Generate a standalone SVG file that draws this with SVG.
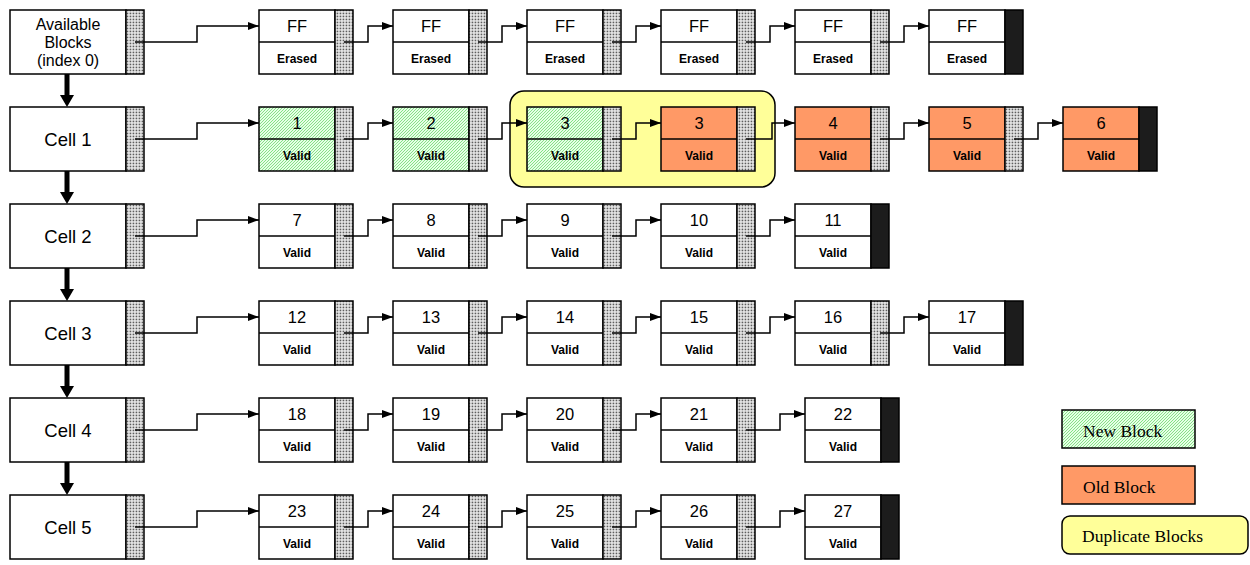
<svg xmlns="http://www.w3.org/2000/svg" width="1250" height="565" viewBox="0 0 1250 565">
<defs>
<pattern id="dots" width="3" height="3" patternUnits="userSpaceOnUse">
<rect width="3" height="3" fill="#f0f0f0"/>
<rect x="0.6" y="0.6" width="1.7" height="1.7" fill="#5e5e5e"/>
</pattern>
<pattern id="hatch" width="3" height="3" patternUnits="userSpaceOnUse">
<rect width="3" height="3" fill="#e6ffe6"/>
<path d="M-1,1 L1,-1 M0,3 L3,0 M2,4 L4,2" stroke="#6fd86f" stroke-width="0.8"/>
</pattern>
<marker id="arr" markerUnits="userSpaceOnUse" markerWidth="11" markerHeight="8" refX="11" refY="4" orient="auto">
<path d="M0,0 L11,4 L0,8 z" fill="#000"/>
</marker>
</defs>
<style>
.w{fill:#fff;stroke:#000;stroke-width:1.5}
.g{fill:url(#hatch);stroke:#000;stroke-width:1.5}
.o{fill:#ff9966;stroke:#000;stroke-width:1.5}
.d{fill:url(#dots);stroke:#000;stroke-width:1.5}
.k{fill:#1c1c1c;stroke:#000;stroke-width:1.5}
.sep{stroke:#000;stroke-width:1.5}
.t{font-family:"Liberation Sans",Arial,sans-serif;font-size:16.5px;text-anchor:middle;fill:#000}
.c{font-family:"Liberation Sans",Arial,sans-serif;font-size:18.5px;text-anchor:middle;fill:#000}
.a{font-family:"Liberation Sans",Arial,sans-serif;font-size:16px;text-anchor:middle;fill:#000}
.b{font-family:"Liberation Sans",Arial,sans-serif;font-size:12px;font-weight:bold;text-anchor:middle;fill:#000}
.lg{font-family:"Liberation Serif","Times New Roman",serif;font-size:17.5px;fill:#000}
.cn{fill:none;stroke:#000;stroke-width:1.5;marker-end:url(#arr)}
</style>

<!-- duplicate group background -->
<rect id="duplicate-group" x="510" y="91" width="265" height="96" rx="14" ry="14" fill="#ffff99" stroke="#000" stroke-width="1.5"/>

<!-- left cells -->
<g id="available"><rect class="w" x="10" y="10" width="116" height="64"/><rect class="d" x="126" y="10" width="18" height="64"/>
<text class="a" x="68" y="29.5">Available</text><text class="a" x="68" y="47.5">Blocks</text><text class="a" x="68" y="65.5">(index 0)</text></g>
<g id="cell1"><rect class="w" x="10" y="107" width="116" height="64"/><rect class="d" x="126" y="107" width="18" height="64"/><text class="c" x="68" y="146">Cell 1</text></g>
<g id="cell2"><rect class="w" x="10" y="204" width="116" height="64"/><rect class="d" x="126" y="204" width="18" height="64"/><text class="c" x="68" y="243">Cell 2</text></g>
<g id="cell3"><rect class="w" x="10" y="301" width="116" height="64"/><rect class="d" x="126" y="301" width="18" height="64"/><text class="c" x="68" y="340">Cell 3</text></g>
<g id="cell4"><rect class="w" x="10" y="398" width="116" height="64"/><rect class="d" x="126" y="398" width="18" height="64"/><text class="c" x="68" y="437">Cell 4</text></g>
<g id="cell5"><rect class="w" x="10" y="495" width="116" height="64"/><rect class="d" x="126" y="495" width="18" height="64"/><text class="c" x="68" y="534">Cell 5</text></g>

<!-- row 0 -->
<g id="r0b1"><rect class="w" x="259" y="10" width="76" height="64"/><line class="sep" x1="259" y1="42" x2="335" y2="42"/><rect class="d" x="335" y="10" width="18" height="64"/><text class="t" x="297" y="32">FF</text><text class="b" x="297" y="63">Erased</text></g>
<g id="r0b2"><rect class="w" x="393" y="10" width="76" height="64"/><line class="sep" x1="393" y1="42" x2="469" y2="42"/><rect class="d" x="469" y="10" width="18" height="64"/><text class="t" x="431" y="32">FF</text><text class="b" x="431" y="63">Erased</text></g>
<g id="r0b3"><rect class="w" x="527" y="10" width="76" height="64"/><line class="sep" x1="527" y1="42" x2="603" y2="42"/><rect class="d" x="603" y="10" width="18" height="64"/><text class="t" x="565" y="32">FF</text><text class="b" x="565" y="63">Erased</text></g>
<g id="r0b4"><rect class="w" x="661" y="10" width="76" height="64"/><line class="sep" x1="661" y1="42" x2="737" y2="42"/><rect class="d" x="737" y="10" width="18" height="64"/><text class="t" x="699" y="32">FF</text><text class="b" x="699" y="63">Erased</text></g>
<g id="r0b5"><rect class="w" x="795" y="10" width="76" height="64"/><line class="sep" x1="795" y1="42" x2="871" y2="42"/><rect class="d" x="871" y="10" width="18" height="64"/><text class="t" x="833" y="32">FF</text><text class="b" x="833" y="63">Erased</text></g>
<g id="r0b6"><rect class="w" x="929" y="10" width="76" height="64"/><line class="sep" x1="929" y1="42" x2="1005" y2="42"/><rect class="k" x="1005" y="10" width="18" height="64"/><text class="t" x="967" y="32">FF</text><text class="b" x="967" y="63">Erased</text></g>

<!-- row 1 -->
<g id="b1"><rect class="g" x="259" y="107" width="76" height="64"/><line class="sep" x1="259" y1="139" x2="335" y2="139"/><rect class="d" x="335" y="107" width="18" height="64"/><text class="t" x="297" y="129">1</text><text class="b" x="297" y="160">Valid</text></g>
<g id="b2"><rect class="g" x="393" y="107" width="76" height="64"/><line class="sep" x1="393" y1="139" x2="469" y2="139"/><rect class="d" x="469" y="107" width="18" height="64"/><text class="t" x="431" y="129">2</text><text class="b" x="431" y="160">Valid</text></g>
<g id="b3new"><rect class="g" x="527" y="107" width="76" height="64"/><line class="sep" x1="527" y1="139" x2="603" y2="139"/><rect class="d" x="603" y="107" width="18" height="64"/><text class="t" x="565" y="129">3</text><text class="b" x="565" y="160">Valid</text></g>
<g id="b3old"><rect class="o" x="661" y="107" width="76" height="64"/><line class="sep" x1="661" y1="139" x2="737" y2="139"/><rect class="d" x="737" y="107" width="18" height="64"/><text class="t" x="699" y="129">3</text><text class="b" x="699" y="160">Valid</text></g>
<g id="b4"><rect class="o" x="795" y="107" width="76" height="64"/><line class="sep" x1="795" y1="139" x2="871" y2="139"/><rect class="d" x="871" y="107" width="18" height="64"/><text class="t" x="833" y="129">4</text><text class="b" x="833" y="160">Valid</text></g>
<g id="b5"><rect class="o" x="929" y="107" width="76" height="64"/><line class="sep" x1="929" y1="139" x2="1005" y2="139"/><rect class="d" x="1005" y="107" width="18" height="64"/><text class="t" x="967" y="129">5</text><text class="b" x="967" y="160">Valid</text></g>
<g id="b6"><rect class="o" x="1063" y="107" width="76" height="64"/><line class="sep" x1="1063" y1="139" x2="1139" y2="139"/><rect class="k" x="1139" y="107" width="18" height="64"/><text class="t" x="1101" y="129">6</text><text class="b" x="1101" y="160">Valid</text></g>

<!-- row 2 -->
<g id="b7"><rect class="w" x="259" y="204" width="76" height="64"/><line class="sep" x1="259" y1="236" x2="335" y2="236"/><rect class="d" x="335" y="204" width="18" height="64"/><text class="t" x="297" y="226">7</text><text class="b" x="297" y="257">Valid</text></g>
<g id="b8"><rect class="w" x="393" y="204" width="76" height="64"/><line class="sep" x1="393" y1="236" x2="469" y2="236"/><rect class="d" x="469" y="204" width="18" height="64"/><text class="t" x="431" y="226">8</text><text class="b" x="431" y="257">Valid</text></g>
<g id="b9"><rect class="w" x="527" y="204" width="76" height="64"/><line class="sep" x1="527" y1="236" x2="603" y2="236"/><rect class="d" x="603" y="204" width="18" height="64"/><text class="t" x="565" y="226">9</text><text class="b" x="565" y="257">Valid</text></g>
<g id="b10"><rect class="w" x="661" y="204" width="76" height="64"/><line class="sep" x1="661" y1="236" x2="737" y2="236"/><rect class="d" x="737" y="204" width="18" height="64"/><text class="t" x="699" y="226">10</text><text class="b" x="699" y="257">Valid</text></g>
<g id="b11"><rect class="w" x="795" y="204" width="76" height="64"/><line class="sep" x1="795" y1="236" x2="871" y2="236"/><rect class="k" x="871" y="204" width="18" height="64"/><text class="t" x="833" y="226">11</text><text class="b" x="833" y="257">Valid</text></g>

<!-- row 3 -->
<g id="b12"><rect class="w" x="259" y="301" width="76" height="64"/><line class="sep" x1="259" y1="333" x2="335" y2="333"/><rect class="d" x="335" y="301" width="18" height="64"/><text class="t" x="297" y="323">12</text><text class="b" x="297" y="354">Valid</text></g>
<g id="b13"><rect class="w" x="393" y="301" width="76" height="64"/><line class="sep" x1="393" y1="333" x2="469" y2="333"/><rect class="d" x="469" y="301" width="18" height="64"/><text class="t" x="431" y="323">13</text><text class="b" x="431" y="354">Valid</text></g>
<g id="b14"><rect class="w" x="527" y="301" width="76" height="64"/><line class="sep" x1="527" y1="333" x2="603" y2="333"/><rect class="d" x="603" y="301" width="18" height="64"/><text class="t" x="565" y="323">14</text><text class="b" x="565" y="354">Valid</text></g>
<g id="b15"><rect class="w" x="661" y="301" width="76" height="64"/><line class="sep" x1="661" y1="333" x2="737" y2="333"/><rect class="d" x="737" y="301" width="18" height="64"/><text class="t" x="699" y="323">15</text><text class="b" x="699" y="354">Valid</text></g>
<g id="b16"><rect class="w" x="795" y="301" width="76" height="64"/><line class="sep" x1="795" y1="333" x2="871" y2="333"/><rect class="d" x="871" y="301" width="18" height="64"/><text class="t" x="833" y="323">16</text><text class="b" x="833" y="354">Valid</text></g>
<g id="b17"><rect class="w" x="929" y="301" width="76" height="64"/><line class="sep" x1="929" y1="333" x2="1005" y2="333"/><rect class="k" x="1005" y="301" width="18" height="64"/><text class="t" x="967" y="323">17</text><text class="b" x="967" y="354">Valid</text></g>

<!-- row 4 -->
<g id="b18"><rect class="w" x="259" y="398" width="76" height="64"/><line class="sep" x1="259" y1="430" x2="335" y2="430"/><rect class="d" x="335" y="398" width="18" height="64"/><text class="t" x="297" y="420">18</text><text class="b" x="297" y="451">Valid</text></g>
<g id="b19"><rect class="w" x="393" y="398" width="76" height="64"/><line class="sep" x1="393" y1="430" x2="469" y2="430"/><rect class="d" x="469" y="398" width="18" height="64"/><text class="t" x="431" y="420">19</text><text class="b" x="431" y="451">Valid</text></g>
<g id="b20"><rect class="w" x="527" y="398" width="76" height="64"/><line class="sep" x1="527" y1="430" x2="603" y2="430"/><rect class="d" x="603" y="398" width="18" height="64"/><text class="t" x="565" y="420">20</text><text class="b" x="565" y="451">Valid</text></g>
<g id="b21"><rect class="w" x="661" y="398" width="76" height="64"/><line class="sep" x1="661" y1="430" x2="737" y2="430"/><rect class="d" x="737" y="398" width="18" height="64"/><text class="t" x="699" y="420">21</text><text class="b" x="699" y="451">Valid</text></g>
<g id="b22"><rect class="w" x="805" y="398" width="76" height="64"/><line class="sep" x1="805" y1="430" x2="881" y2="430"/><rect class="k" x="881" y="398" width="18" height="64"/><text class="t" x="843" y="420">22</text><text class="b" x="843" y="451">Valid</text></g>

<!-- row 5 -->
<g id="b23"><rect class="w" x="259" y="495" width="76" height="64"/><line class="sep" x1="259" y1="527" x2="335" y2="527"/><rect class="d" x="335" y="495" width="18" height="64"/><text class="t" x="297" y="517">23</text><text class="b" x="297" y="548">Valid</text></g>
<g id="b24"><rect class="w" x="393" y="495" width="76" height="64"/><line class="sep" x1="393" y1="527" x2="469" y2="527"/><rect class="d" x="469" y="495" width="18" height="64"/><text class="t" x="431" y="517">24</text><text class="b" x="431" y="548">Valid</text></g>
<g id="b25"><rect class="w" x="527" y="495" width="76" height="64"/><line class="sep" x1="527" y1="527" x2="603" y2="527"/><rect class="d" x="603" y="495" width="18" height="64"/><text class="t" x="565" y="517">25</text><text class="b" x="565" y="548">Valid</text></g>
<g id="b26"><rect class="w" x="661" y="495" width="76" height="64"/><line class="sep" x1="661" y1="527" x2="737" y2="527"/><rect class="d" x="737" y="495" width="18" height="64"/><text class="t" x="699" y="517">26</text><text class="b" x="699" y="548">Valid</text></g>
<g id="b27"><rect class="w" x="805" y="495" width="76" height="64"/><line class="sep" x1="805" y1="527" x2="881" y2="527"/><rect class="k" x="881" y="495" width="18" height="64"/><text class="t" x="843" y="517">27</text><text class="b" x="843" y="548">Valid</text></g>

<!-- connectors -->
<g id="connectors">
<path class="cn" d="M135,42 H197 V26 H259"/>
<path class="cn" d="M344,42 H368 V26 H393"/>
<path class="cn" d="M478,42 H502 V26 H527"/>
<path class="cn" d="M612,42 H636 V26 H661"/>
<path class="cn" d="M746,42 H770 V26 H795"/>
<path class="cn" d="M880,42 H904 V26 H929"/>

<path class="cn" d="M135,139 H197 V123 H259"/>
<path class="cn" d="M344,139 H368 V123 H393"/>
<path class="cn" d="M478,139 H502 V123 H527"/>
<path class="cn" d="M612,139 H636 V123 H661"/>
<path class="cn" d="M746,139 H772 V123 H795"/>
<path class="cn" d="M880,139 H904 V123 H929"/>
<path class="cn" d="M1014,139 H1038 V123 H1063"/>

<path class="cn" d="M135,236 H197 V220 H259"/>
<path class="cn" d="M344,236 H368 V220 H393"/>
<path class="cn" d="M478,236 H502 V220 H527"/>
<path class="cn" d="M612,236 H636 V220 H661"/>
<path class="cn" d="M746,236 H770 V220 H795"/>

<path class="cn" d="M135,333 H197 V317 H259"/>
<path class="cn" d="M344,333 H368 V317 H393"/>
<path class="cn" d="M478,333 H502 V317 H527"/>
<path class="cn" d="M612,333 H636 V317 H661"/>
<path class="cn" d="M746,333 H770 V317 H795"/>
<path class="cn" d="M880,333 H904 V317 H929"/>

<path class="cn" d="M135,430 H197 V414 H259"/>
<path class="cn" d="M344,430 H368 V414 H393"/>
<path class="cn" d="M478,430 H502 V414 H527"/>
<path class="cn" d="M612,430 H636 V414 H661"/>
<path class="cn" d="M746,430 H780 V414 H805"/>

<path class="cn" d="M135,527 H197 V511 H259"/>
<path class="cn" d="M344,527 H368 V511 H393"/>
<path class="cn" d="M478,527 H502 V511 H527"/>
<path class="cn" d="M612,527 H636 V511 H661"/>
<path class="cn" d="M746,527 H780 V511 H805"/>

<g fill="#000">
<rect x="64.5" y="74" width="5" height="22"/><polygon points="60,95 74,95 67,107"/>
<rect x="64.5" y="171" width="5" height="22"/><polygon points="60,192 74,192 67,204"/>
<rect x="64.5" y="268" width="5" height="22"/><polygon points="60,289 74,289 67,301"/>
<rect x="64.5" y="365" width="5" height="22"/><polygon points="60,386 74,386 67,398"/>
<rect x="64.5" y="462" width="5" height="22"/><polygon points="60,483 74,483 67,495"/>
</g>
</g>

<!-- legend -->
<g id="legend-new"><rect x="1062" y="410" width="133" height="38" fill="url(#hatch)" stroke="#000" stroke-width="1.5"/><text class="lg" x="1083" y="437">New Block</text></g>
<g id="legend-old"><rect x="1062" y="466" width="133" height="38" fill="#ff9966" stroke="#000" stroke-width="1.5"/><text class="lg" x="1083" y="493">Old Block</text></g>
<g id="legend-dup"><rect x="1062" y="516" width="186" height="38" rx="8" ry="8" fill="#ffff99" stroke="#000" stroke-width="1.5"/><text class="lg" x="1082" y="542">Duplicate Blocks</text></g>
</svg>
